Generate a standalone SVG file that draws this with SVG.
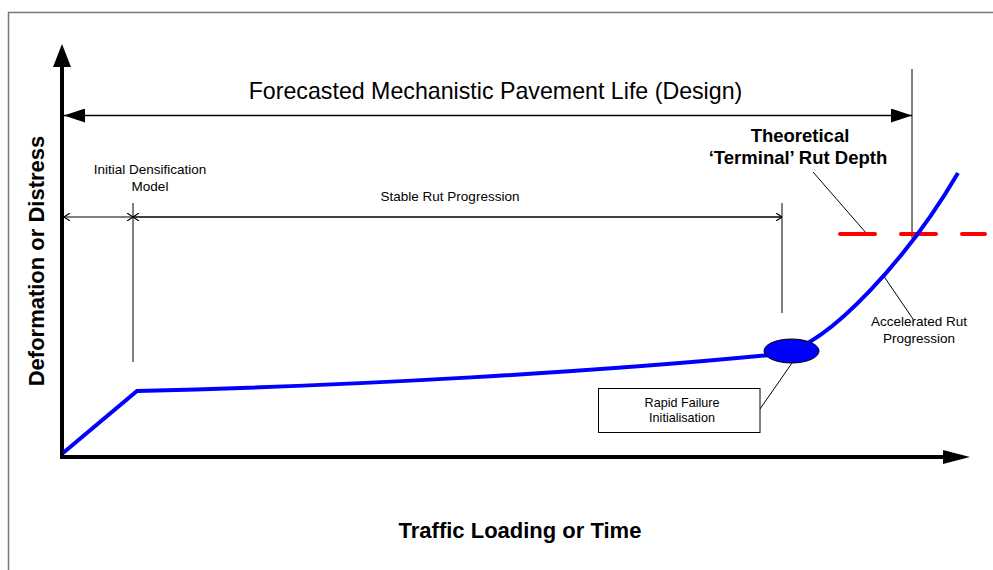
<svg xmlns="http://www.w3.org/2000/svg" width="993" height="570" viewBox="0 0 993 570">
<defs>
<style>
text{font-family:"Liberation Sans",Arial,sans-serif;fill:#000}
.lbl{font-size:13.5px;text-anchor:middle}
.big{font-size:22px;font-weight:bold;text-anchor:middle}
.thin{stroke:#000;stroke-width:1;fill:none}
.dim{stroke:#000;stroke-width:1.5;fill:none}
</style>
<marker id="fill" viewBox="0 0 10 10" refX="10" refY="5" markerWidth="21" markerHeight="14" markerUnits="userSpaceOnUse" orient="auto-start-reverse" preserveAspectRatio="none"><path d="M0,0L10,5L0,10Z" fill="#000"/></marker>
<marker id="open" viewBox="0 0 10 10" refX="10" refY="5" markerWidth="6" markerHeight="8" markerUnits="userSpaceOnUse" orient="auto-start-reverse" preserveAspectRatio="none"><path d="M0,0L10,5L0,10" fill="none" stroke="#000" stroke-width="1.5"/></marker>
</defs>
<rect x="8.5" y="12.5" width="1000" height="600" fill="#fff" stroke="#777" stroke-width="1.5"/>

<g id="axes">
<line x1="62" y1="457" x2="62" y2="66" stroke="#000" stroke-width="4"/>
<path d="M62,44L71,67L53,67Z" fill="#000"/>
<line x1="60" y1="457" x2="945" y2="457" stroke="#000" stroke-width="4"/>
<path d="M970,457L943,450L943,464Z" fill="#000"/>
</g>

<g id="connectors">
<line class="dim" x1="64" y1="115.5" x2="912" y2="115.5" marker-start="url(#fill)" marker-end="url(#fill)"/>
<line class="thin" x1="912" y1="69" x2="912" y2="238"/>
<line class="thin" x1="64" y1="217" x2="133" y2="217" marker-start="url(#open)" marker-end="url(#open)"/>
<line class="dim" x1="133" y1="217" x2="782" y2="217" marker-start="url(#open)" marker-end="url(#open)"/>
<line class="thin" x1="133" y1="203" x2="133" y2="362" stroke="#555"/>
<line class="thin" x1="782" y1="203" x2="782" y2="313" stroke="#555"/>
<line class="thin" x1="813" y1="172" x2="867" y2="234"/>
<line class="thin" x1="883" y1="275" x2="913" y2="319"/>
<line class="thin" x1="760" y1="409" x2="792" y2="363"/>
</g>

<g id="terminal-line">
<line x1="840" y1="234" x2="985" y2="234" stroke="#f00" stroke-width="4" stroke-linecap="round" stroke-dasharray="35 26"/>
</g>

<g id="curve">
<path d="M63,453L137,391C350,386 600,372 780,354C830,345 910,255 958,173" fill="none" stroke="#0000ff" stroke-width="4"/>
</g>

<g id="rapid-failure-point">
<ellipse cx="791.5" cy="351" rx="27.5" ry="12" fill="#0000ff" stroke="#000" stroke-width="1"/>
</g>

<g id="title">
<text x="495.5" y="99" style="font-size:23.2px;text-anchor:middle">Forecasted Mechanistic Pavement Life (Design)</text>
</g>

<g id="initial-densification">
<text class="lbl" x="150" y="174">Initial Densification</text>
<text class="lbl" x="150" y="191">Model</text>
</g>

<g id="stable-rut">
<text class="lbl" x="450" y="201">Stable Rut Progression</text>
</g>

<g id="terminal-rut">
<text x="800" y="142" style="font-size:18.5px;font-weight:bold;text-anchor:middle">Theoretical</text>
<text x="798" y="164" style="font-size:18.5px;font-weight:bold;text-anchor:middle">‘Terminal’ Rut Depth</text>
</g>

<g id="accelerated-rut">
<text class="lbl" x="919" y="326">Accelerated Rut</text>
<text class="lbl" x="919" y="343">Progression</text>
</g>

<g id="rapid-failure">
<rect x="598.5" y="388.5" width="161.5" height="44" fill="#fff" stroke="#000" stroke-width="1"/>
<text x="682" y="407" style="font-size:12.6px;text-anchor:middle">Rapid Failure</text>
<text x="682" y="422" style="font-size:12.6px;text-anchor:middle">Initialisation</text>
</g>

<g id="y-label">
<text class="big" transform="translate(44,261) rotate(-90)" x="0" y="0">Deformation or Distress</text>
</g>

<g id="x-label">
<text class="big" x="520" y="538">Traffic Loading or Time</text>
</g>
</svg>
